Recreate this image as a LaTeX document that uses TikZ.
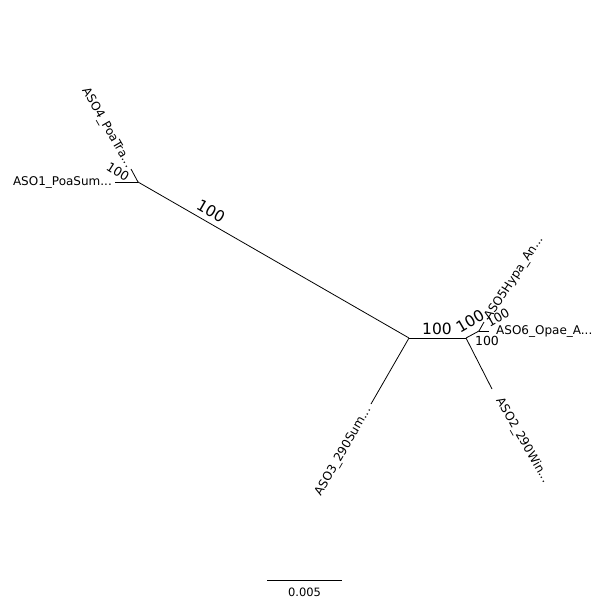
\documentclass[tikz,border=0pt]{standalone}
\usepackage{fontspec}
\setmainfont{DejaVu Sans}
\usetikzlibrary{calc}
\begin{document}
\begin{tikzpicture}[x=1pt,y=-1pt,
  br/.style={draw=black,line width=0.8pt},
  leaf/.style={inner sep=1pt,font=\fontsize{12}{14}\selectfont},
  bsmall/.style={inner sep=0pt,font=\fontsize{12.5}{14}\selectfont},
  bbig/.style={inner sep=0pt,font=\fontsize{15.5}{18}\selectfont}]
\useasboundingbox (0,0) rectangle (600,600);
\fill[white] (0,0) rectangle (600,600);
% internal nodes
\coordinate (A) at (138,182);
\coordinate (B) at (409,338);
\coordinate (C) at (466,338);
\coordinate (D) at (479,331);
% tips
\coordinate (t1) at (115,182);
\coordinate (t4) at (131,169);
\coordinate (t3) at (371,404);
\coordinate (t2) at (492,389);
\coordinate (t6) at (489,331);
\coordinate (t5) at (484,322);
% branches
\draw[br] (A) -- (t1);
\draw[br] (A) -- (t4);
\draw[br] (A) -- (B);
\draw[br] (B) -- (t3);
\draw[br] (B) -- (C);
\draw[br] (C) -- (t2);
\draw[br] (C) -- (D);
\draw[br] (D) -- (t6);
\draw[br] (D) -- (t5);
% leaf labels
\node[leaf,anchor=east] (l1) at ($(t1)+(-2,0)$) {ASO1\_PoaSum...};
\node[leaf,anchor=east,rotate=-60] (l4) at ($(t4)+(-1,-1)$) {ASO4\_PoaTra...};
\node[leaf,anchor=east,rotate=60] (l3) at ($(t3)+(-2,3)$) {ASO3\_290Sum...};
\node[leaf,anchor=west,rotate=-60] (l2) at ($(t2)+(6,9)$) {ASO2\_290Win...};
\node[leaf,anchor=west] (l6) at ($(t6)+(6,0)$) {ASO6\_Opae\_A...};
\node[leaf,anchor=west,rotate=57] (l5) at ($(t5)+(3,-2)$) {ASO5Hypa\_An...};
% bootstrap labels
\node[bsmall,rotate=-32] (b1) at (118,172) {100};
\node[bbig,rotate=-30] (b2) at (211,211) {100};
\node[bbig] (b3) at (437,329) {100};
\node[bbig,rotate=30] (b4) at (470,321) {100};
\node[bsmall,rotate=30] (b5) at (498,318) {100};
\node[bsmall] (b6) at (487,341) {100};
% scale bar
\coordinate (s1) at (267,580);
\coordinate (s2) at (342,580);
\draw[br] (s1) -- (s2);
\node[inner sep=0pt,font=\fontsize{11.5}{13}\selectfont] (sl) at (304.5,592) {0.005};
\end{tikzpicture}
\end{document}
